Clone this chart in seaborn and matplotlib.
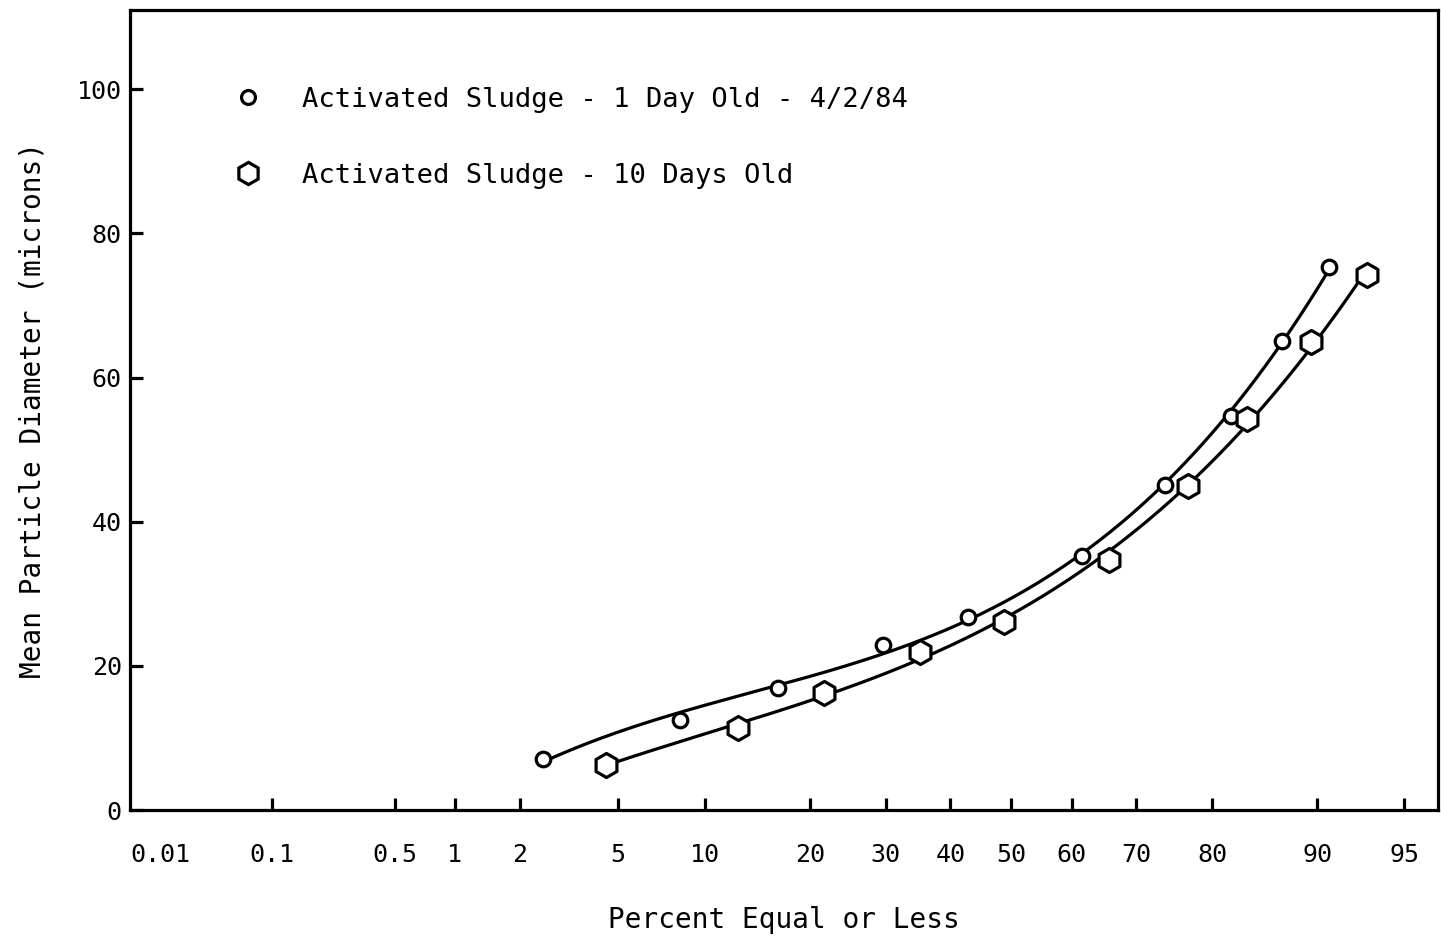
import numpy as np
import pandas as pd
import matplotlib
matplotlib.use("Agg")
import matplotlib.pyplot as plt
from matplotlib.lines import Line2D
import seaborn as sns
from statistics import NormalDist

# Cumulative percent (equal or less) and mean particle diameter (microns)
pct_1day = [2.5, 8.3, 16.5, 29.6, 42.9, 61.7, 74.0, 82.1, 87.2, 90.8]
dia_1day = [7.1, 12.5, 16.9, 22.9, 26.8, 35.3, 45.1, 54.6, 65.1, 75.3]

pct_10day = [4.5, 12.7, 21.7, 35.2, 48.8, 65.9, 77.0, 83.8, 89.5, 93.2]
dia_10day = [6.25, 11.4, 16.25, 21.9, 26.1, 34.7, 44.9, 54.3, 64.9, 74.3]

label_1day = "Activated Sludge - 1 Day Old - 4/2/84"
label_10day = "Activated Sludge - 10 Days Old"

x_ticks = [0.1, 0.5, 1, 2, 5, 10, 20, 30, 40, 50, 60, 70, 80, 90, 95]
x_ticklabels = ["0.1", "0.5", "1", "2", "5", "10", "20", "30", "40", "50",
                "60", "70", "80", "90", "95"]
y_ticks = [0, 20, 40, 60, 80, 100]

sns.set_theme(style="white")
plt.rcParams["font.family"] = ["DejaVu Sans Mono", "DejaVu Sans"]
plt.rcParams["text.color"] = "black"
plt.rcParams["axes.labelcolor"] = "black"

_nd = NormalDist()


def to_probit(p):
    p = np.asarray(p, dtype=float)
    q = np.clip(p / 100.0, 1e-9, 1 - 1e-9)
    return np.vectorize(_nd.inv_cdf, otypes=[float])(q)


def from_probit(z):
    z = np.asarray(z, dtype=float)
    return 100.0 * np.vectorize(_nd.cdf, otypes=[float])(z)


fig = plt.figure(figsize=(14.41, 9.38), dpi=100)
ax = fig.add_axes([130 / 1441, 1 - 810 / 938, 1308 / 1441, 800 / 938])
ax.set_xscale("function", functions=(to_probit, from_probit))
ax.set_xlim(0.0114, 96.3)
ax.set_ylim(0, 111)

lw = 2.3


def smooth_curve(pct, dia, deg=3):
    # least-squares cubic trend of diameter against the normal score
    z = to_probit(pct)
    coef = np.polyfit(z, dia, deg)
    zz = np.linspace(z.min(), z.max(), 200)
    return pd.DataFrame({"pct": from_probit(zz), "dia": np.polyval(coef, zz)})


c1 = smooth_curve(pct_1day, dia_1day)
c2 = smooth_curve(pct_10day, dia_10day)
sns.lineplot(data=c1, x="pct", y="dia", sort=False, color="black", lw=lw, ax=ax, zorder=2)
sns.lineplot(data=c2, x="pct", y="dia", sort=False, color="black", lw=lw, ax=ax, zorder=2)

sns.scatterplot(x=pct_1day, y=dia_1day, marker="o", s=110, color="white",
                edgecolor="black", linewidth=lw, ax=ax, zorder=3)
sns.scatterplot(x=pct_10day, y=dia_10day, marker="h", s=300, color="white",
                edgecolor="black", linewidth=lw, ax=ax, zorder=3)

ax.set_xticks(x_ticks)
ax.set_xticklabels(x_ticklabels)
ax.xaxis.set_minor_locator(matplotlib.ticker.NullLocator())
ax.set_yticks(y_ticks)
ax.set_yticklabels([str(v) for v in y_ticks])

ax.tick_params(axis="x", direction="in", length=9, width=lw, pad=24,
               labelsize=18, bottom=True, top=False, colors="black")
ax.tick_params(axis="y", direction="in", length=9, width=lw, pad=6,
               labelsize=18, left=True, right=False, colors="black")

# label for the 0.01 end of the probability scale
ax.text((160 - 130) / 1308, 0.0, "0.01", fontsize=18, ha="center", va="top",
        color="black",
        transform=matplotlib.transforms.offset_copy(ax.transAxes, fig=fig, x=0,
                                                    y=-24, units="points"))

for s in ax.spines.values():
    s.set_linewidth(lw)
    s.set_color("black")

ax.set_xlabel("Percent Equal or Less", fontsize=20, labelpad=28, color="black")
ax.set_ylabel("Mean Particle Diameter (microns)", fontsize=20, labelpad=22, color="black")

handles = [
    Line2D([], [], marker="o", linestyle="none", markersize=10,
           markerfacecolor="white", markeredgecolor="black", markeredgewidth=lw),
    Line2D([], [], marker="h", linestyle="none", markersize=16,
           markerfacecolor="white", markeredgecolor="black", markeredgewidth=lw),
]
leg = ax.legend(handles, [label_1day, label_10day], loc="upper left",
                bbox_to_anchor=(0.0795, 0.904), frameon=False, fontsize=19.5,
                borderpad=0, borderaxespad=0, handlelength=1.0, handletextpad=1.5,
                labelspacing=1.84)
for t in leg.get_texts():
    t.set_color("black")

fig.savefig("out.png", dpi=100, facecolor="white")
